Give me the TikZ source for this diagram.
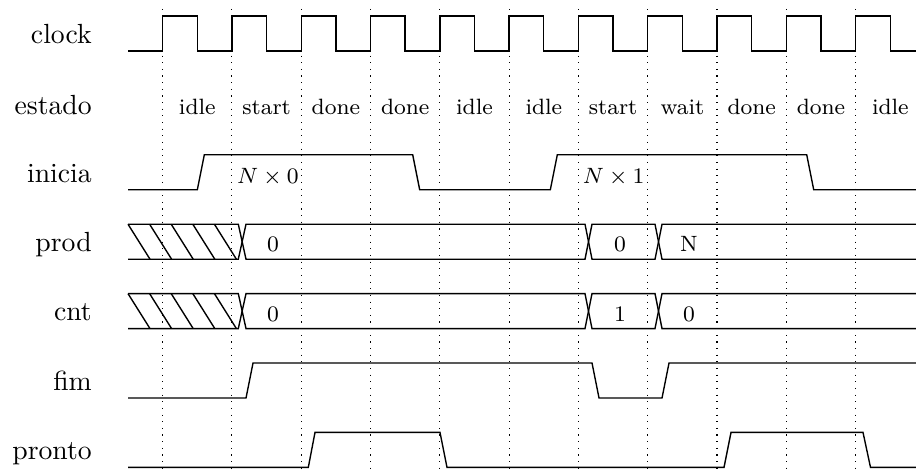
\documentclass[tikz,border=0pt]{standalone}
\usepackage{tikz}
\usepackage{amsmath, amsfonts}

\begin{document}
\begin{tikzpicture}[x=0.361pt, y=-0.361pt,
            sig/.style = {line width=0.5pt},
            grid/.style = {dotted, line width=0.4pt},
            lbl/.style = {anchor=base east, inner sep=0pt},
            val/.style = {anchor=base, inner sep=0pt, font=\footnotesize}]
            \useasboundingbox (0,0) rectangle (916,474);

            \foreach \k in {0,...,10}
                \draw[grid] ({162.6+69.3*\k},9) -- ({162.6+69.3*\k},474);

            \node[lbl] (clock) at (92.3,43.3) {clock};
            \node[lbl] (estado) at (92.3,114.5) {estado};
            \node[lbl] (inicia) at (92.3,182.3) {inicia};
            \node[lbl] (prod) at (92.3,251.6) {prod};
            \node[lbl] (cnt) at (92.3,320.6) {cnt};
            \node[lbl] (fim) at (92.3,390.2) {fim};
            \node[lbl] (pronto) at (92.3,459.5) {pronto};

            \draw[sig] (128,51) \foreach \k in {0,...,10} {
                -- ({162.6+69.3*\k},51) -- ++(0,-35) -- ++(34.65,0) -- ++(0,35)} -- (916,51);

            \foreach \s [count=\k from 0] in {idle,start,done,done,idle,idle,start,wait,done,done,idle}
                \node[val] (st\k) at ({197.3+69.3*\k},114.3) {\s};

            \draw[sig] (128,189.8) -- (197.3,189.8) -- (204.3,154.8) -- (412.7,154.8) -- (419.7,189.8)
                -- (550.3,189.8) -- (557.3,154.8) -- (806.7,154.8) -- (813.7,189.8) -- (916,189.8);
            \node[val, anchor=base west] (n0) at (236.5,183.3) {$N\times 0$};
            \node[val, anchor=base west] (n1) at (582.3,183.3) {$N\times 1$};

            \draw[sig] (128,224.2) -- (238.3,224.2) -- (246,259.2) -- (585,259.2) -- (592,224.2)
                -- (655,224.2) -- (662,259.2) -- (916,259.2);
            \draw[sig] (128,259.2) -- (238.3,259.2) -- (246,224.2) -- (585,224.2) -- (592,259.2)
                -- (655,259.2) -- (662,224.2) -- (916,224.2);
            \foreach \h in {0,...,4}
                \draw[sig] ({128+21.6*\h},224.2) -- ++(22,35);
            \node[val] (p0) at (273,251.7) {0};
            \node[val] (p1) at (620,251.7) {0};
            \node[val] (p2) at (689,251.7) {N};

            \draw[sig] (128,293.6) -- (238.3,293.6) -- (246,328.6) -- (585,328.6) -- (592,293.6)
                -- (655,293.6) -- (662,328.6) -- (916,328.6);
            \draw[sig] (128,328.6) -- (238.3,328.6) -- (246,293.6) -- (585,293.6) -- (592,328.6)
                -- (655,328.6) -- (662,293.6) -- (916,293.6);
            \foreach \h in {0,...,4}
                \draw[sig] ({128+21.6*\h},293.6) -- ++(22,35);
            \node[val] (c0) at (273,321.1) {0};
            \node[val] (c1) at (620,321.1) {1};
            \node[val] (c2) at (689,321.1) {0};

            \draw[sig] (128,398) -- (246,398) -- (253,363) -- (592,363) -- (599,398)
                -- (662,398) -- (669,363) -- (916,363);

            \draw[sig] (128,467.4) -- (308.3,467.4) -- (315,432.4) -- (440,432.4) -- (447,467.4)
                -- (724,467.4) -- (731,432.4) -- (863,432.4) -- (870.5,467.4) -- (916,467.4);
        \end{tikzpicture}
\end{document}
